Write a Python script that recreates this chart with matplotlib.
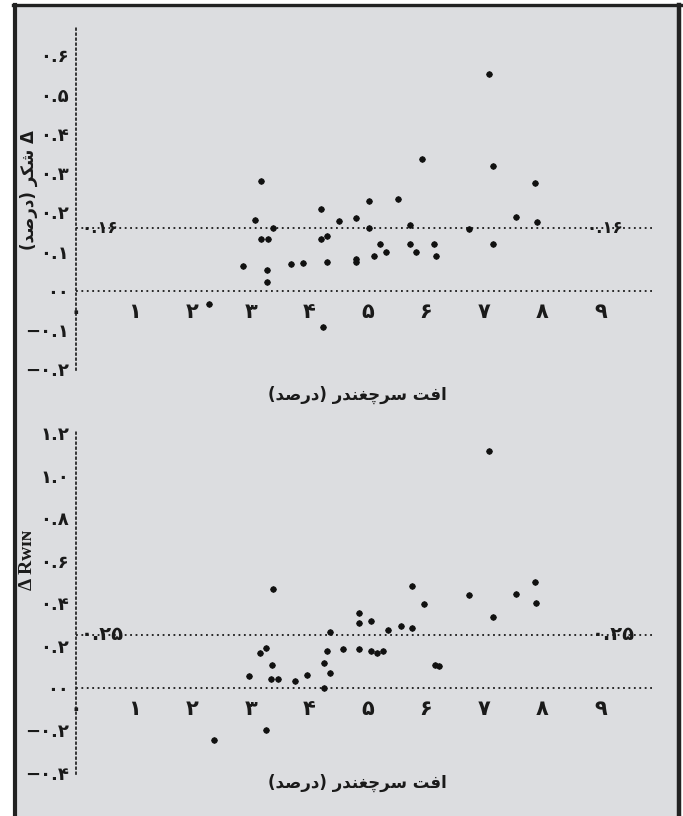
import matplotlib
matplotlib.use("Agg")
import matplotlib.pyplot as plt
from matplotlib.lines import Line2D
from matplotlib.patches import Rectangle

W, H = 683, 816
BG = "#dcdde0"
INK = "#1a1a1a"

# افت سرچغندر (درصد) و تغییرات شکر / RWIN
loss_sugar = [2.28, 2.86, 3.07, 3.17, 3.17, 3.30, 3.28, 3.28, 3.38, 3.69, 3.89,
              4.20, 4.20, 4.30, 4.30, 4.24, 4.52, 4.81, 4.81, 4.81, 5.02, 5.02,
              5.11, 5.22, 5.32, 5.53, 5.73, 5.73, 5.83, 5.94, 6.15, 6.18, 6.74,
              7.08, 7.15, 7.16, 7.55, 7.88, 7.91]
d_sugar = [-0.034, 0.063, 0.180, 0.280, 0.131, 0.131, 0.053, 0.022, 0.160, 0.068, 0.071,
           0.208, 0.131, 0.140, 0.074, -0.093, 0.179, 0.186, 0.082, 0.074, 0.228, 0.160,
           0.089, 0.119, 0.099, 0.234, 0.168, 0.118, 0.099, 0.336, 0.118, 0.088, 0.157,
           0.552, 0.319, 0.118, 0.188, 0.276, 0.175]
mean_sugar = 0.16

loss_rwin = [3.38, 4.86, 4.86, 5.07, 5.36, 4.36, 3.26, 3.16, 4.31, 4.58, 4.86,
             5.07, 5.16, 5.26, 3.36, 4.25, 2.96, 3.35, 3.46, 3.76, 3.96, 4.36,
             4.26, 3.26, 2.36, 7.08, 5.76, 7.88, 6.74, 7.55, 5.97, 7.90, 7.16,
             5.57, 5.76, 6.16, 6.22]
d_rwin = [0.466, 0.354, 0.307, 0.315, 0.272, 0.264, 0.191, 0.164, 0.175, 0.186, 0.186,
          0.175, 0.166, 0.173, 0.110, 0.116, 0.055, 0.045, 0.045, 0.035, 0.063, 0.069,
          0.001, -0.200, -0.247, 1.115, 0.483, 0.499, 0.437, 0.443, 0.398, 0.402, 0.337,
          0.294, 0.282, 0.110, 0.106]
mean_rwin = 0.25

x_ticks = list(range(10))
sugar_ticks = [0.6, 0.5, 0.4, 0.3, 0.2, 0.1, 0, -0.1, -0.2]
sugar_labels = ["0.6", "0.5", "0.4", "0.3", "0.2", "0.1", "00", "-0.1", "-0.2"]
rwin_ticks = [1.2, 1.0, 0.8, 0.6, 0.4, 0.2, 0, -0.2, -0.4]
rwin_labels = ["1.2", "1.0", "0.8", "0.6", "0.4", "0.2", "00", "-0.2", "-0.4"]

FA_DIGITS = str.maketrans("0123456789-", "۰۱۲۳۴۵۶۷۸۹−")


def fa(s):
    return s.translate(FA_DIGITS)


# شکل‌های اتصال حروف: (تنها، پایانی، آغازی، میانی)
FORMS = {
    "ا": ("\uFE8D", "\uFE8E", None, None),
    "د": ("\uFEA9", "\uFEAA", None, None),
    "ر": ("\uFEAD", "\uFEAE", None, None),
    "ت": ("\uFE95", "\uFE96", "\uFE97", "\uFE98"),
    "س": ("\uFEB1", "\uFEB2", "\uFEB3", "\uFEB4"),
    "ش": ("\uFEB5", "\uFEB6", "\uFEB7", "\uFEB8"),
    "ص": ("\uFEB9", "\uFEBA", "\uFEBB", "\uFEBC"),
    "غ": ("\uFECD", "\uFECE", "\uFECF", "\uFED0"),
    "ف": ("\uFED1", "\uFED2", "\uFED3", "\uFED4"),
    "ن": ("\uFEE5", "\uFEE6", "\uFEE7", "\uFEE8"),
    "ک": ("\uFB8E", "\uFB8F", "\uFB90", "\uFB91"),
    "چ": ("\uFB7A", "\uFB7B", "\uFB7C", "\uFB7D"),
}


def rtl(s):
    out = []
    for i, ch in enumerate(s):
        if ch not in FORMS:
            out.append(ch)
            continue
        iso, fin, ini, med = FORMS[ch]
        prev = s[i - 1] if i > 0 else ""
        nxt = s[i + 1] if i + 1 < len(s) else ""
        jp = prev in FORMS and FORMS[prev][2] is not None
        jn = nxt in FORMS and ini is not None
        out.append(med if jp and jn else fin if jp else ini if jn else iso)
    mirror = {"(": ")", ")": "("}
    return "".join(mirror.get(c, c) for c in reversed(out))


plt.rcParams["font.family"] = ["DejaVu Sans"]

fig = plt.figure(figsize=(W / 100, H / 100), dpi=100)
fig.patch.set_facecolor("white")


def fx(px):
    return px / W


def fy(py):
    return 1 - py / H


# قاب خاکستری با لبه‌های تیره
fig.add_artist(Rectangle((fx(15), 0), fx(679) - fx(15), fy(4.5), transform=fig.transFigure,
                         facecolor=BG, edgecolor="none", zorder=-10))
for xs, ys, lw in [([15, 15], [4.5, 820], 3.0), ([679, 679], [4.5, 820], 3.2),
                   ([13, 681], [4.5, 4.5], 2.4)]:
    fig.add_artist(Line2D([fx(v) for v in xs], [fy(v) for v in ys],
                          transform=fig.transFigure, color="#222222", lw=lw))


def panel(ax, xs, ys, mean, ticks, labels, ylim, mean_fs, mean_x, xlab_y):
    ax.set_facecolor("none")
    ax.set_xlim(0, 9.9)
    ax.set_ylim(*ylim)
    for side in ["top", "right"]:
        ax.spines[side].set_visible(False)
    ax.spines["bottom"].set_position(("data", 0))
    ax.spines["bottom"].set_visible(False)
    ax.spines["left"].set_linestyle((0, (1, 2)))
    ax.spines["left"].set_linewidth(1.2)
    ax.spines["left"].set_color(INK)
    ax.tick_params(length=0)
    ax.set_xticks(x_ticks)
    ax.set_xticklabels([fa(str(v)) for v in x_ticks], fontsize=15, fontweight="bold",
                       color=INK)
    ax.tick_params(axis="x", pad=8)
    ax.set_yticks(ticks)
    ax.set_yticklabels([fa(s) for s in labels], fontsize=13, fontweight="bold", color=INK)
    ax.tick_params(axis="y", pad=5)
    for v in (0, mean):
        ax.axhline(v, color=INK, lw=1.3, ls=(0, (1, 2)))
    for xm in mean_x:
        ax.text(xm, mean, fa(f"{mean:.2f}"), fontsize=mean_fs, fontweight="bold",
                ha="left", va="center", color=INK)
    ax.plot(xs, ys, "o", ms=3.6, color="#111111", zorder=5)
    ax.plot(xs, ys, "+", ms=5.0, mew=0.8, color="#111111", zorder=5)
    ax.text(0.487, xlab_y, rtl("افت سرچغندر (درصد)"),
            transform=ax.transAxes, ha="center", va="center",
            fontsize=12, fontweight="bold", color=INK)


ax1 = fig.add_axes([fx(76), fy(370), fx(653) - fx(76), fy(28) - fy(370)])
panel(ax1, loss_sugar, d_sugar, mean_sugar, sugar_ticks, sugar_labels,
      (-0.202, 0.670), 12, [0.1, 8.76], -0.073)

ax2 = fig.add_axes([fx(76), fy(774), fx(653) - fx(76), fy(430) - fy(774)])
panel(ax2, loss_rwin, d_rwin, mean_rwin, rwin_ticks, rwin_labels,
      (-0.405, 1.216), 14, [0.08, 8.85], -0.026)

fig.text(fx(29), fy(190), rtl("Δ شکر (درصد)"), rotation=90, ha="center", va="center",
         fontsize=12, fontweight="bold", color=INK)
fig.text(fx(28), fy(560), "Δ Rᴡɪɴ", rotation=90, ha="center", va="center",
         fontsize=14, fontweight="bold", color=INK,
         family=["Liberation Serif", "DejaVu Serif"])

fig.savefig("out.png", dpi=100, facecolor=fig.get_facecolor())
